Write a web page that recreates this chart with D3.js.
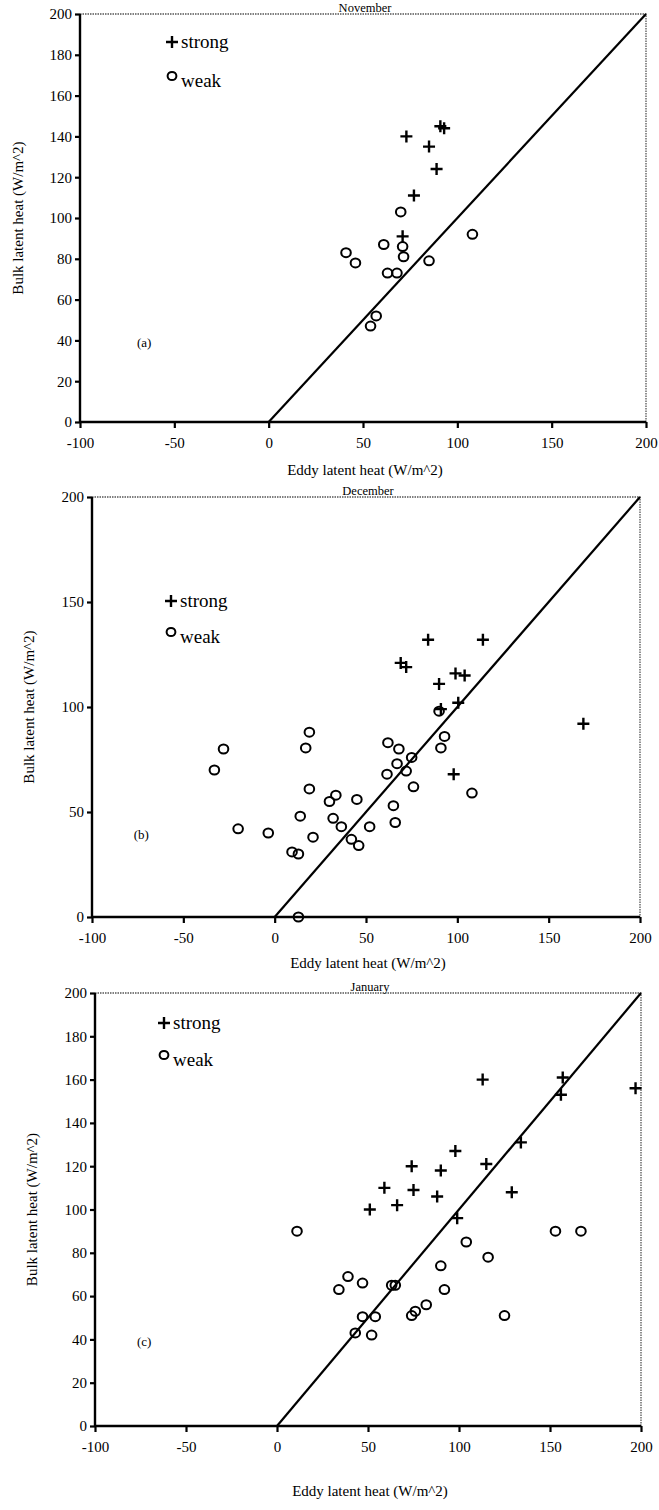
<!DOCTYPE html>
<html>
<head>
<meta charset="utf-8">
<script src="https://cdn.jsdelivr.net/npm/d3@7"></script>
<style>
  body { margin: 0; background: #fff; }
  svg { display: block; }
  text { font-family: "Liberation Serif", "DejaVu Serif", serif; fill: #000; }
</style>
</head>
<body>
<svg id="chart" width="659" height="1510"></svg>
<script>
// ===== Bulk vs eddy latent heat, three months =====

const xTicks = [-100, -50, 0, 50, 100, 150, 200];
const yTicksFine = [0, 20, 40, 60, 80, 100, 120, 140, 160, 180, 200];
const yTicksCoarse = [0, 50, 100, 150, 200];

// November
const novStrongX = [73, 85, 91, 93, 89, 77, 71];
const novStrongY = [140, 135, 145, 144, 124, 111, 91];
const novWeakX = [70, 61, 71, 71.5, 41, 46, 63, 68, 85, 108, 57, 54];
const novWeakY = [103, 87, 86, 81, 83, 78, 73, 73, 79, 92, 52, 47];

// December
const decStrongX = [84, 114, 69, 72, 90, 99, 104, 100.5, 91, 98, 169];
const decStrongY = [132, 132, 121, 119, 111, 116, 115, 102, 99, 68, 92];
const decWeakX = [90, 93, 91, 108, 62, 68, 75, 67, 72, 61.5, 76, 65, 66, 19, 17, -28, -33,
                  19, 30, 33.5, 45, 14, 32, 36.5, 52, -20, -3.5, 21, 42, 46, 9.5, 13, 13];
const decWeakY = [98, 86, 80.5, 59, 83, 80, 76, 73, 69.5, 68, 62, 53, 45, 88, 80.5, 80, 70,
                  61, 55, 58, 56, 48, 47, 43, 43, 42, 40, 38, 37, 34, 31, 30, 0];

// January
const janStrongX = [113, 157, 156, 197, 134, 98, 74, 90, 115, 59, 75, 51, 66, 88, 129, 99];
const janStrongY = [160, 161, 153, 156, 131, 127, 120, 118, 121, 110, 109, 100, 102, 106, 108, 96];
const janWeakX = [11, 104, 116, 153, 167, 90, 92, 39, 34, 47, 63, 65, 82, 76, 74, 47, 54, 43, 52, 125];
const janWeakY = [90, 85, 78, 90, 90, 74, 63, 69, 63, 66, 65, 65, 56, 53, 51, 50.5, 50.5, 43, 42, 51];

const svg = d3.select('#chart');

function zip(xs, ys) {
    return xs.map((x, i) => ({ x: x, y: ys[i] }));
}

// plain hyphen for negatives, like the scan
const fmt = d => String(d);

function drawPanel(p) {
    const x = d3.scaleLinear().domain([-100, 200]).range([p.left, p.right]);
    const y = d3.scaleLinear().domain([0, 200]).range([p.bottom, p.top]);
    const g = svg.append('g');

    // title
    g.append('text')
        .attr('x', (p.left + p.right) / 2 + 2)
        .attr('y', p.top - 2)
        .attr('text-anchor', 'middle')
        .attr('font-size', 12.5)
        .text(p.title);

    // top and right frame: thin dotted grey
    g.append('path')
        .attr('d', `M${p.left},${p.top}H${p.right}V${p.bottom}`)
        .attr('fill', 'none')
        .attr('stroke', '#555')
        .attr('stroke-width', 1.3)
        .attr('stroke-dasharray', '1.5,1');

    // axes
    const xAxis = d3.axisBottom(x).tickValues(xTicks).tickSize(6).tickPadding(9).tickFormat(fmt);
    const yAxis = d3.axisLeft(y).tickValues(p.yTicks).tickSize(5).tickPadding(3).tickFormat(fmt);

    const gx = g.append('g').attr('transform', `translate(0,${p.bottom})`).call(xAxis);
    const gy = g.append('g').attr('transform', `translate(${p.left},0)`).call(yAxis);

    [gx, gy].forEach(a => {
        a.select('.domain').attr('stroke', '#000').attr('stroke-width', 2.4);
        a.selectAll('.tick line').attr('stroke', '#000').attr('stroke-width', 2.2);
        a.selectAll('.tick text')
            .attr('font-family', '"Liberation Serif", serif')
            .attr('font-size', 15)
            .attr('fill', '#000');
    });
    gx.select('.domain').attr('d', `M${p.left},0H${p.right}`);
    gy.select('.domain').attr('d', `M0,${p.top}V${p.bottom}`);

    // axis labels
    g.append('text')
        .attr('x', (p.left + p.right) / 2 + 2)
        .attr('y', p.xLabelY)
        .attr('text-anchor', 'middle')
        .attr('font-size', 15)
        .text('Eddy latent heat (W/m^2)');

    g.append('text')
        .attr('transform', `translate(${p.yLabelX},${(p.top + p.bottom) / 2}) rotate(-90)`)
        .attr('text-anchor', 'middle')
        .attr('font-size', 15)
        .text('Bulk latent heat (W/m^2)');

    // one-to-one line
    g.append('line')
        .attr('x1', x(0)).attr('y1', y(0))
        .attr('x2', x(200)).attr('y2', y(200))
        .attr('stroke', '#000')
        .attr('stroke-width', 2.2);

    // panel tag
    g.append('text')
        .attr('x', x(p.tag[0]))
        .attr('y', y(p.tag[1]))
        .attr('text-anchor', 'middle')
        .attr('font-size', 13)
        .text(p.tag[2]);

    // weak: open circles
    g.selectAll('.weak')
        .data(zip(p.weakX, p.weakY))
        .enter().append('ellipse')
        .attr('cx', d => x(d.x))
        .attr('cy', d => y(d.y))
        .attr('rx', 4.8)
        .attr('ry', 4.5)
        .attr('fill', 'none')
        .attr('stroke', '#000')
        .attr('stroke-width', 2);

    // strong: plus signs
    const s = 6;
    g.selectAll('.strong')
        .data(zip(p.strongX, p.strongY))
        .enter().append('path')
        .attr('d', d => {
            const cx = x(d.x), cy = y(d.y);
            return `M${cx - s},${cy}H${cx + s}M${cx},${cy - s}V${cy + s}`;
        })
        .attr('stroke', '#000')
        .attr('stroke-width', 2.4);

    // legend
    const lx = p.legend[0], ly = p.legend[1];
    g.append('path')
        .attr('d', `M${lx - s},${ly}H${lx + s}M${lx},${ly - s}V${ly + s}`)
        .attr('stroke', '#000')
        .attr('stroke-width', 2.4);
    g.append('text')
        .attr('x', lx + 9).attr('y', ly + 6)
        .attr('font-size', 19)
        .text('strong');
    g.append('ellipse')
        .attr('cx', lx).attr('cy', ly + p.legendGap)
        .attr('rx', 4.4).attr('ry', 4.1)
        .attr('fill', 'none')
        .attr('stroke', '#000')
        .attr('stroke-width', 2);
    g.append('text')
        .attr('x', lx + 9).attr('y', ly + p.legendGap + 11)
        .attr('font-size', 19)
        .text('weak');
}

drawPanel({
    title: 'November', left: 80, right: 646, top: 14, bottom: 422,
    yTicks: yTicksFine, xLabelY: 475, yLabelX: 23,
    tag: [-66, 37, '(a)'], legend: [172, 42], legendGap: 34,
    strongX: novStrongX, strongY: novStrongY, weakX: novWeakX, weakY: novWeakY
});

drawPanel({
    title: 'December', left: 92, right: 640, top: 497, bottom: 917,
    yTicks: yTicksCoarse, xLabelY: 968, yLabelX: 34,
    tag: [-73, 37, '(b)'], legend: [171, 601], legendGap: 31,
    strongX: decStrongX, strongY: decStrongY, weakX: decWeakX, weakY: decWeakY
});

drawPanel({
    title: 'January', left: 95, right: 641, top: 993, bottom: 1426,
    yTicks: yTicksFine, xLabelY: 1496, yLabelX: 37,
    tag: [-73, 37, '(c)'], legend: [164, 1023], legendGap: 32,
    strongX: janStrongX, strongY: janStrongY, weakX: janWeakX, weakY: janWeakY
});
</script>
</body>
</html>
